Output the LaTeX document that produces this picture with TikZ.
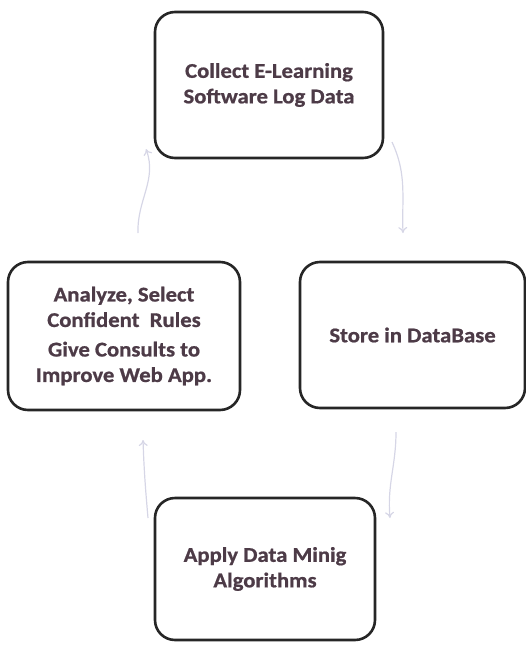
\documentclass[tikz,border=0pt]{standalone}
\usepackage{fontspec}
\setmainfont{Carlito}
\newfontfamily\boxfont[FakeStretch=1.08,BoldFeatures={FakeBold=0.8}]{Carlito}
\usetikzlibrary{arrows.meta}
\definecolor{txt}{HTML}{4D3B47}
\definecolor{arr}{HTML}{D6D6E6}
\tikzset{
  box/.style={draw=black!85, line width=2.6pt, rounded corners=20pt, fill=white,
    align=center, font=\boxfont\fontsize{21}{25.5}\selectfont\bfseries, text=txt, inner sep=0pt},
  flow/.style={draw=arr, line width=1.2pt, -{To[length=6pt,width=9pt]}}
}
\begin{document}
\begin{tikzpicture}[x=1pt,y=-1pt]
\useasboundingbox (0,0) rectangle (526,646);
\node[box, minimum width=228pt, minimum height=146pt] (collect) at (269,85) {Collect E-Learning\\Software Log Data};
\node[box, minimum width=225pt, minimum height=146pt] (store) at (412.5,335) {Store in DataBase};
\node[box, minimum width=232pt, minimum height=148pt] (analyze) at (124,336) {Analyze, Select\\Confident\ \ Rules\\[4pt]Give Consults to\\Improve Web App.};
\node[box, minimum width=220pt, minimum height=142pt] (apply) at (265,569) {Apply Data Minig\\Algorithms};
\coordinate (a1s) at (392,142);
\coordinate (a1e) at (403,233);
\coordinate (a2s) at (396,432);
\coordinate (a2e) at (390,518);
\coordinate (a3s) at (148,518);
\coordinate (a3e) at (143,440);
\coordinate (a4s) at (138,233);
\coordinate (a4e) at (146,149);
\draw[flow] (a1s) to[out=-65,in=92] (a1e);
\draw[flow] (a2s) to[out=-90,in=95] (a2e);
\draw[flow] (a3s) to[out=95,in=-88] (a3e);
\draw[flow] (a4s) to[out=92,in=-70] (a4e);
\end{tikzpicture}
\end{document}
